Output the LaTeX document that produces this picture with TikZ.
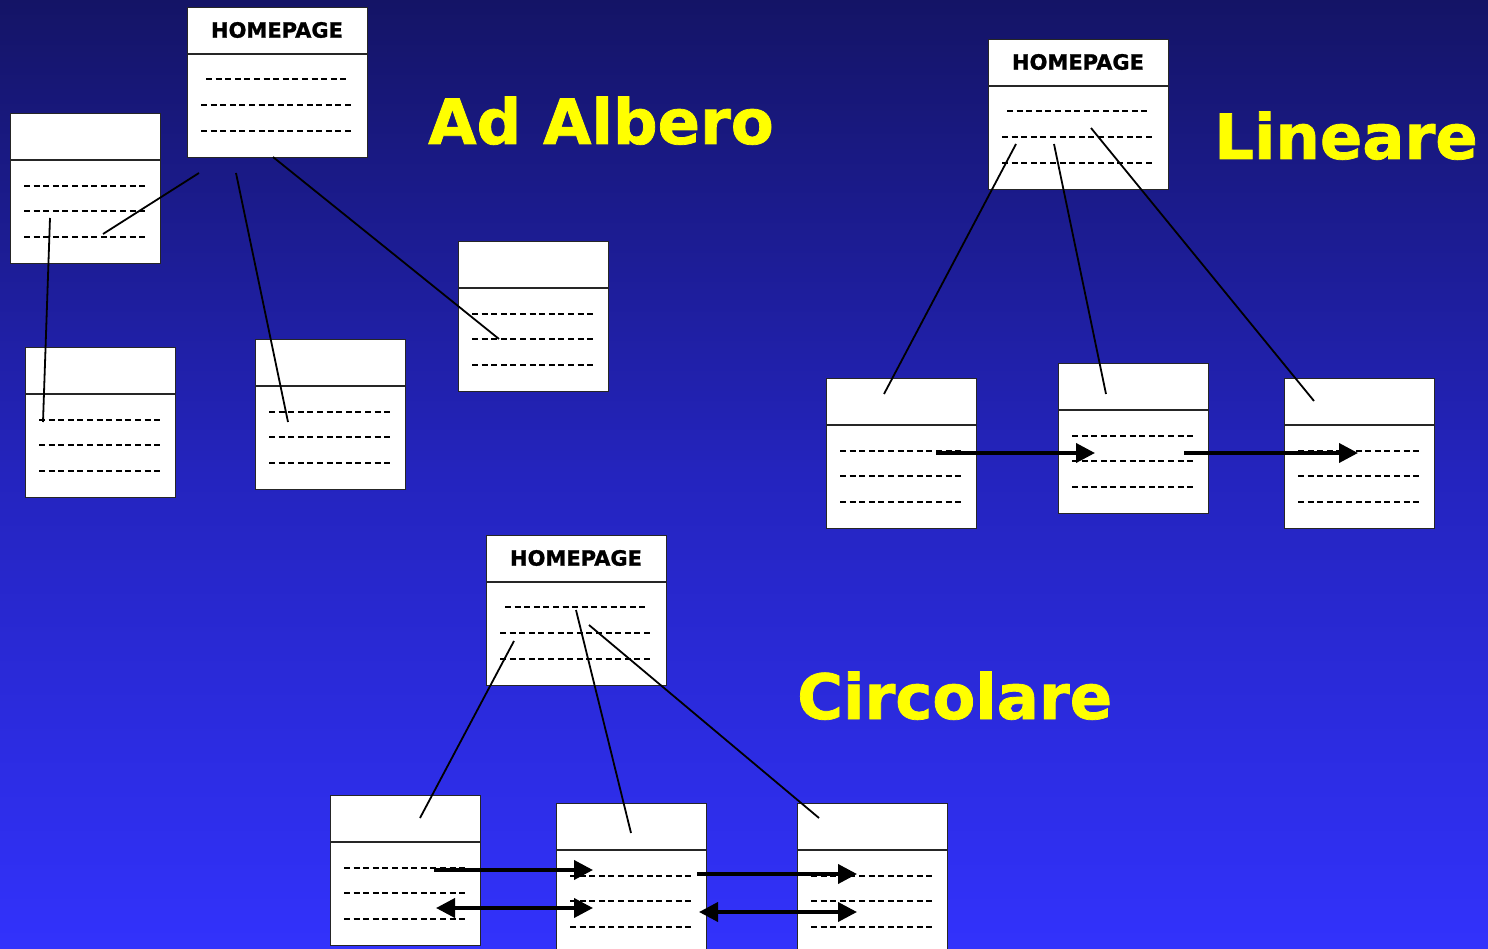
\documentclass[tikz,border=0pt]{standalone}
\usepackage{fontspec}
\setmainfont{DejaVu Sans}
\newfontfamily\heavyfont{DejaVu Sans Bold}[FakeBold=1.2]
\usetikzlibrary{arrows.meta}
\definecolor{bgtop}{RGB}{20,20,102}
\definecolor{bgmid}{RGB}{36,36,190}
\definecolor{bgbot}{RGB}{50,50,252}
\definecolor{titleyellow}{RGB}{255,255,0}
\tikzset{
  pagebox/.style={draw=black!85, fill=white, line width=1.2pt, minimum width=150pt, minimum height=150pt, anchor=north west, inner sep=0pt},
  homebox/.style={pagebox, minimum width=180pt},
  divider/.style={draw=black!85, line width=1.2pt},
  dashline/.style={draw=black, line width=1.8pt, dash pattern=on 6pt off 3.6pt},
  link/.style={draw=black, line width=1.8pt},
  arrowline/.style={draw=black, line width=3.8pt, -{Triangle[length=19pt,width=19pt]}},
  dblarrow/.style={draw=black, line width=3.8pt, {Triangle[length=19pt,width=19pt]}-{Triangle[length=19pt,width=19pt]}},
  hptext/.style={font=\heavyfont\fontsize{21}{23}\selectfont, text=black},
  titletext/.style={font=\heavyfont\fontsize{62.5}{64}\selectfont, text=titleyellow, anchor=base west, inner sep=0pt}
}
\newcommand\smallpage[3]{%
  \node[pagebox] (#1) at (#2,#3) {};
  \draw[divider] ([yshift=-47pt]#1.north west) -- ([yshift=-47pt]#1.north east);
  \draw[dashline] ([xshift=14pt,yshift=-73pt]#1.north west) -- ++(122,0);
  \draw[dashline] ([xshift=14pt,yshift=-98pt]#1.north west) -- ++(122,0);
  \draw[dashline] ([xshift=14pt,yshift=-124pt]#1.north west) -- ++(122,0);
}
\newcommand\homepage[3]{%
  \node[homebox] (#1) at (#2,#3) {};
  \draw[divider] ([yshift=-47pt]#1.north west) -- ([yshift=-47pt]#1.north east);
  \node[hptext] (#1-t) at ([xshift=90pt,yshift=-23pt]#1.north west) {HOMEPAGE};
  \draw[dashline] ([xshift=19pt,yshift=-72pt]#1.north west) -- ++(143,0);
  \draw[dashline] ([xshift=14pt,yshift=-98pt]#1.north west) -- ++(152,0);
  \draw[dashline] ([xshift=14pt,yshift=-124pt]#1.north west) -- ++(152,0);
}
\begin{document}
\begin{tikzpicture}[x=1pt,y=-1pt]
\shade[top color=bgtop, bottom color=bgbot, middle color=bgmid] (0,0) rectangle (1488,949);
\useasboundingbox (0,0) rectangle (1488,949);

% ---- Ad Albero ----
\homepage{hpa}{187}{7}
\smallpage{ta}{10}{113}
\smallpage{tb}{25}{347}
\smallpage{tc}{255}{339}
\smallpage{td}{458}{241}
\node[titletext] (t1) at (428,144) {Ad Albero};

\coordinate (a1) at (199,173); \coordinate (a1e) at (103,234);
\coordinate (a2) at (236,173); \coordinate (a2e) at (288,422);
\coordinate (a3) at (273,157); \coordinate (a3e) at (499,339);
\coordinate (a4) at (50,218);  \coordinate (a4e) at (43,422);
\draw[link] (a1) -- (a1e);
\draw[link] (a2) -- (a2e);
\draw[link] (a3) -- (a3e);
\draw[link] (a4) -- (a4e);

% ---- Lineare ----
\homepage{hpl}{988}{39}
\smallpage{la}{826}{378}
\smallpage{lb}{1058}{363}
\smallpage{lc}{1284}{378}
\node[titletext] (t2) at (1214,159) {Lineare};

\coordinate (l1) at (1016,144); \coordinate (l1e) at (884,394);
\coordinate (l2) at (1054,144); \coordinate (l2e) at (1106,394);
\coordinate (l3) at (1091,128); \coordinate (l3e) at (1314,401);
\draw[link] (l1) -- (l1e);
\draw[link] (l2) -- (l2e);
\draw[link] (l3) -- (l3e);
\coordinate (la1) at (936,453); \coordinate (la1e) at (1095,453);
\coordinate (lb1) at (1184,453); \coordinate (lb1e) at (1358,453);
\draw[arrowline] (la1) -- (la1e);
\draw[arrowline] (lb1) -- (lb1e);

% ---- Circolare ----
\homepage{hpc}{486}{535}
\smallpage{ca}{330}{795}
\smallpage{cb}{556}{803}
\smallpage{cc}{797}{803}
\node[titletext] (t3) at (797,719) {Circolare};

\coordinate (c1) at (514,641); \coordinate (c1e) at (420,818);
\coordinate (c2) at (576,610); \coordinate (c2e) at (631,833);
\coordinate (c3) at (589,625); \coordinate (c3e) at (819,818);
\draw[link] (c1) -- (c1e);
\draw[link] (c2) -- (c2e);
\draw[link] (c3) -- (c3e);
\coordinate (ca1) at (434,870); \coordinate (ca1e) at (593,870);
\coordinate (ca2) at (436,908); \coordinate (ca2e) at (593,908);
\coordinate (cb1) at (697,874); \coordinate (cb1e) at (857,874);
\coordinate (cb2) at (699,912); \coordinate (cb2e) at (857,912);
\draw[arrowline] (ca1) -- (ca1e);
\draw[dblarrow] (ca2) -- (ca2e);
\draw[arrowline] (cb1) -- (cb1e);
\draw[dblarrow] (cb2) -- (cb2e);
\end{tikzpicture}
\end{document}
